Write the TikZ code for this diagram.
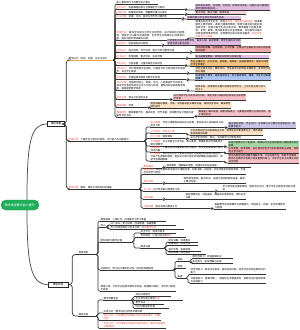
\documentclass[tikz,border=0pt]{standalone}
\usepackage{fontspec}
\usepackage{tikz}
\newfontfamily\cjk{Noto Sans CJK SC}
\XeTeXlinebreaklocale "zh"
\XeTeXlinebreakskip=0pt plus .5pt
\definecolor{rootgreen}{HTML}{1FAF5A}
\definecolor{lineorange}{HTML}{F2A53A}
\definecolor{hlred}{HTML}{E5483F}
\definecolor{purp}{HTML}{DFBCE0}
\definecolor{pinklt}{HTML}{F7D4DA}
\definecolor{pinkmd}{HTML}{F2ABAB}
\definecolor{pinkbx}{HTML}{F5C1C6}
\definecolor{orng}{HTML}{F6C27E}
\definecolor{peach}{HTML}{FCE2C6}
\definecolor{bluebx}{HTML}{AFC6F2}
\definecolor{lavbx}{HTML}{CBC5E8}
\definecolor{greenbx}{HTML}{A3D6A3}
\newcommand\redt[1]{\textcolor{hlred}{#1}}

\begin{document}
\begin{tikzpicture}[x=1pt,y=-1pt,
    every node/.style={font=\cjk\fontsize{2.4}{2.9}\selectfont},
    txt/.style={inner sep=.5pt,anchor=south west,align=left,text width=#1pt},
    ul/.style={append after command={(\tikzlastnode.south west) edge[draw=#1,line width=.6pt] (\tikzlastnode.south east)}},
    leaf/.style={txt=#1,ul=black!80},
    tag/.style 2 args={leaf=#1,fill=#2},
    hub/.style={draw=black!85,line width=.55pt,fill=white,inner xsep=2.5pt,inner ysep=1.2pt,font=\cjk\fontsize{2.6}{3}\selectfont},
    link/.style={draw=black!80,line width=.7pt,rounded corners=1.5pt},
    trunk/.style={draw=black!70,line width=.75pt},
  ]
  \useasboundingbox (0,0) rectangle (300,330);

  % root and main branches
  \node[fill=rootgreen,draw=rootgreen!80!black,line width=.4pt,rounded corners=5pt,text=white,
        minimum width=38pt,minimum height=10pt,inner sep=0pt,font=\cjk\fontsize{3}{3.5}\selectfont]
        (root) at (20,205) {教师课堂教学能力提升};
  \node[hub,minimum width=17pt] (prep) at (56,124) {课前准备};
  \node[hub,minimum width=20pt] (impl) at (58,284.5) {课堂实施};
  \draw[trunk] ([xshift=7pt]root.north) .. controls (27,140) and (31,124) .. (prep.west);
  \draw[trunk] ([xshift=7pt]root.south) .. controls (27,265) and (31,284.5) .. (impl.west);

  % lesson design
  \node[txt=44,ul=lineorange] (design) at (68,60) {教学设计：目标、内容、方法与评价};
  \node[leaf=41] (ds1) at (116,4) {核心素养导向下的教学设计要点};
  \node[leaf=67] (ds2) at (116,9) {\redt{目标设计：}依据课程标准与学情确定学习目标};
  \node[tag={74}{purp}] (dn2) at (195,10) {目标表述具体、可观察、可检测，体现知识技能、过程方法与情感态度价值观的有机统一};
  \node[leaf=67] (ds3) at (116,14) {\redt{内容分析：}梳理知识结构，明确教学重点与难点};
  \node[tag={50}{pinklt}] (dn3) at (195,14.5) {重点突出、难点分散、循序渐进};
  \node[leaf=64] (ds4) at (116,18.5) {\redt{方法选择：}讲授、讨论、探究与合作学习相结合};
  \node[tag={53}{purp}] (dn4) at (187,19) {依据内容与学生特点灵活组合运用};
  \node[leaf=69] (ds5) at (116,40) {\redt{情境创设：}联系生活实际与学生已有经验，设计真实的问题情境，激发学习兴趣与求知欲望，引导学生在情境中主动发现问题、提出问题并尝试解决问题};
  \node[leaf=67] (dn5) at (195,38) {情境应贴近学生生活，具有\redt{真实性、趣味性和挑战性}；情境要服务于教学目标，避免为情境而情境；情境中蕴含的问题应具有层次性，能够引发学生的认知冲突；教师要善于利用多媒体、实物、故事、游戏等多种方式呈现情境，并在教学过程中持续发挥情境的作用，实现情境与知识的有机融合，\redt{促进学生深度学习与发展}};
  \node[leaf=44] (ds6) at (116,45) {\redt{问题设计：}层层递进的问题链};
  \node[tag={73}{purp}] (dn6) at (167,45.5) {问题要有启发性和开放性，由浅入深、由易到难，给学生留出充分的思考空间与表达机会};
  \node[leaf=72] (ds7) at (116,52) {\redt{活动设计：}独立思考、合作交流、展示分享与教师点拨};
  \node[tag={75}{pinkmd}] (dn7) at (195,52.5) {活动目标明确、任务具体、分工合理，让每位学生都能参与其中并获得成功体验};
  \node[leaf=68] (ds8) at (116,58) {\redt{板书设计：}条理清晰、重点突出、布局合理};
  \node[tag={73}{purp}] (dn8) at (195,58.5) {板书是微型教案，体现知识结构与思维过程};
  \node[leaf=67] (ds9) at (116,65) {\redt{作业设计：}分层布置，注重实践性与探究性};
  \node[tag={78}{orng}] (dn9) at (190,66) {作业总量适中、形式多样，基础题、提高题、拓展题相结合，满足不同层次学生的需求};
  \node[leaf=69] (ds10) at (116,73) {\redt{评价设计：}评价贯穿教学全过程，过程性评价与终结性评价相结合，关注学生发展};
  \node[tag={75}{peach}] (dn10) at (195,73.5) {评价主体多元化，教师评价、学生自评与同伴互评相结合，及时给予反馈与激励};
  \node[leaf=69] (ds11) at (116,79.5) {\redt{信息技术：}合理运用多媒体与数字化资源};
  \node[tag={75}{bluebx}] (dn11) at (195,80) {技术服务于教学，避免喧宾夺主；恰当使用课件、微课、交互平台等辅助教学};
  \node[leaf=69] (ds12) at (116,90) {\redt{时间分配：}合理安排导入、新授、练习、小结等各环节的时间，保证学生有足够的自主学习与练习时间，避免前松后紧或拖堂现象，提高课堂教学效率};
  \node[tag={70}{peach}] (dn12) at (195,91) {精讲多练，把课堂时间最大限度地还给学生，让学生真正成为学习的主人};
  \node[leaf=52] (ds13) at (116,99) {\redt{预设生成：}预设与生成的关系};
  \node[tag={72}{pinkbx}] (dn13) at (173,100) {充分预设学生可能出现的问题，课堂中善于捕捉和利用动态生成的教学资源};
  \node[leaf=30] (ds14) at (116,107) {\redt{教具准备：}学具};
  \node[tag={80}{peach}] (dn14) at (150,108) {提前准备好教具、学具、实验器材及多媒体设备，课前检查调试，确保课堂顺利进行};
  \node[leaf=77] (ds15) at (116,117) {\redt{教案撰写：}教案要素齐全，格式规范，环节清楚，体现教学设计意图与思路及学生活动};
  \node[tag={72}{pinkbx}] (dn15) at (198,116) {教案是上课的依据，既要详略得当，又要留有调整与生成的余地，便于课后反思};

  % learners
  \node[leaf=75] (learn) at (68,141) {\redt{学情分析：}了解学生已有知识经验、学习能力与兴趣特点};
  \node[leaf=73] (lr1) at (150,127) {\redt{知识基础：}学生已掌握的相关知识与技能，新旧知识之间的联系与衔接点分析};
  \node[tag={67}{lavbx}] (ln1) at (228,128) {通过课前测验、作业分析、访谈等方式了解学生真实起点，确定教学起点};
  \node[leaf=34] (lr2) at (150,133) {\redt{认知特点：年龄与心理}};
  \node[tag={72}{peach}] (ln2) at (190,135) {不同年龄段学生的思维特点不同，低年级以形象思维为主，高年级抽象思维逐步发展};
  \node[leaf=34] (lr3) at (150,138.5) {\redt{学习习惯：}课堂表现};
  \node[leaf=75] (ln3) at (190,139) {关注学生的倾听、表达、书写等学习习惯的养成};
  \node[leaf=72] (lr4) at (150,146) {\redt{个体差异：}关注学困生与学优生，承认差异、尊重差异并利用差异开展分层教学};
  \node[tag={70}{greenbx}] (ln4) at (228,147) {实施分层教学与个别辅导，使每位学生在原有基础上都能得到充分发展};
  \node[leaf=72] (lr5) at (150,152) {\redt{兴趣需求：}了解学生的兴趣爱好与学习需求，从学生的视角设计教学活动内容};
  \node[tag={70}{pinkmd}] (ln5) at (228,153.5) {以学定教，顺学而导，充分调动学生学习的积极性和主动性，培养自主学习能力};
  \node[leaf=72] (lr6) at (150,161) {\redt{学习困难：}预判学生在学习新知识过程中可能遇到的困难与易错点，分析产生困难的原因，提前设计有针对性的突破策略与辅助材料，帮助学生跨越障碍};
  \node[tag={70}{pinkbx}] (ln6) at (228,163) {常见的易错点包括概念理解不清、方法运用不当、审题不仔细等，教师应在教学中有意识地设置辨析练习，引导学生自主纠错并反思总结经验};

  % resources
  \node[leaf=70] (res) at (68,189) {\redt{教学资源：}教材、课件与活动材料的准备};
  \node[leaf=18] (rs1) at (143,168) {\redt{教材解读}};
  \node[leaf=84] (rn1) at (166,167) {通读教材，理解编写意图，把握知识的前后联系};
  \node[leaf=102] (rs2) at (143,174.5) {\redt{课程资源：}充分挖掘和利用校内外课程资源，如图书馆、实验室、社区场馆及网络资源等，丰富学生的学习经历};
  \node[leaf=18] (rs3) at (143,183) {\redt{课件制作}};
  \node[leaf=62] (rn3) at (183,183.5) {课件简洁美观、重点突出，动画与音视频使用适度，服务于教学内容};
  \node[leaf=70] (rs4) at (143,191) {\redt{学习单：}设计导学案与课堂练习单};
  \node[leaf=73] (rn4) at (222,191.5) {学习单问题设置有梯度，留有书写空间，便于学生记录思考过程与收获};
  \node[leaf=18] (rs5) at (143,199) {\redt{实验准备}};
  \node[leaf=60] (rn5) at (185,199.5) {课前预做实验，检查器材，确保实验现象明显、操作安全可靠};
  \node[leaf=66] (rs6) at (143,208) {\redt{环境布置：}座位安排与教室文化};
  \node[leaf=71] (rn6) at (214,209) {根据教学活动需要灵活调整座位，营造民主、和谐、安全的课堂学习氛围};

  \draw[link,rounded corners=3pt] (prep.east) -- ++(1.5,0) |- (design.south west);
  \draw[link,rounded corners=3pt] (prep.east) -- ++(1.5,0) |- (learn.south west);
  \draw[link,rounded corners=3pt] (prep.east) -- ++(1.5,0) |- (res.south west);
  \foreach \i in {1,...,15}
    \draw[link] (design.south east) -- ++(1.5,0) |- (ds\i.south west);
  \foreach \i in {2,...,15}
    \draw[link] (ds\i.south east) -- ++(1.5,0) |- (dn\i.south west);
  \foreach \i in {1,...,6}
    \draw[link] (learn.south east) -- ++(1.5,0) |- (lr\i.south west);
  \foreach \i in {1,...,6}
    \draw[link] (lr\i.south east) -- ++(1.5,0) |- (ln\i.south west);
  \foreach \i in {1,...,6}
    \draw[link] (res.south east) -- ++(1.5,0) |- (rs\i.south west);
  \foreach \i in {1,3,4,5,6}
    \draw[link] (rs\i.south east) -- ++(1.5,0) |- (rn\i.south west);

  % classroom organisation
  \node[leaf=17] (org) at (78,254.5) {课堂组织};
  \node[leaf=65] (or1) at (100,221) {课堂常规：上课礼仪、纪律要求与学习准备};
  \node[leaf=5] (or2) at (100,227) {导入};
  \node[leaf=65] (lead1) at (110,225) {开门见山、复习旧知、创设情境、设疑激趣};
  \node[leaf=73] (lead2) at (110,229) {导入时间控制在三至五分钟，\redt{紧扣教学目标}};
  \node[leaf=31] (or3) at (100,242) {新知探究与教学过程};
  \node[leaf=35] (new1) at (140,233) {自主学习：阅读与思考};
  \node[leaf=45] (new2) at (140,237.5) {合作探究：小组讨论交流\redt{展示}};
  \node[leaf=23] (new3) at (140,248) {精讲点拨};
  \node[leaf=29] (tip1) at (168,242) {抓住关键、讲透重点};
  \node[leaf=29] (tip2) at (168,245.5) {突破难点、总结方法};
  \node[leaf=32] (tip3) at (168,251) {追问引导、拓展思维};
  \node[leaf=37] (tip4) at (168,254.5) {及时纠错、规范表达};
  \node[leaf=72] (or4) at (100,270) {巩固练习：练习设计要有针对性、层次性和趣味性};
  \node[leaf=11] (ex1) at (177,261.5) {基础};
  \node[leaf=40] (exa1) at (192,258.5) {模仿性练习，巩固基础知识};
  \node[leaf=40] (exa2) at (192,263) {变式练习，加深理解与运用};
  \node[leaf=8] (ex2) at (177,268.5) {提高};
  \node[leaf=8] (ex3) at (177,278) {拓展};
  \node[leaf=75] (exc1) at (190,274.5) {综合性练习：联系生活实际，解决实际问题，培养学生综合运用知识的能力};
  \node[leaf=75] (exc2) at (190,283) {开放性练习：答案不唯一，鼓励学生多角度思考，发展学生的创新思维与实践能力};
  \node[leaf=75] (or5) at (100,291) {课堂小结：引导学生回顾本课所学内容，梳理知识结构，交流学习收获与体会};

  % reflection
  \node[leaf=17] (refl) at (78,316) {课后反思};
  \node[leaf=27] (rf1) at (103,300) {教学效果反思};
  \node[leaf=35] (rfa1) at (135,296.5) {目标达成情况};
  \node[leaf=47] (rfa2) at (135,300.5) {学生参与度与课堂\redt{生成}};
  \node[leaf=28] (rfa3) at (135,304.5) {教学方法};
  \node[leaf=33] (rfa4) at (135,308.5) {时间分配是否合理};
  \node[leaf=57] (rf2) at (103,313) {反思方式 - 教学后记与同伴听课评课};
  \node[leaf=57] (rf3) at (103,320.5) {\redt{成功之处：记录课堂中的精彩片段与有效做法，积累经验}};
  \node[leaf=62] (rf4) at (103,328.5) {\redt{不足之处：分析课堂中出现的问题及原因，提出改进措施与再教设计}};

  \draw[link,rounded corners=3pt] (impl.east) -- ++(4,0) |- (org.south west);
  \draw[link,rounded corners=3pt] (impl.east) -- ++(4,0) |- (refl.south west);
  \foreach \i in {1,...,5}
    \draw[link] (org.south east) -- ++(1.5,0) |- (or\i.south west);
  \foreach \i in {1,2}
    \draw[link] (or2.south east) -- ++(1.5,0) |- (lead\i.south west);
  \foreach \i in {1,2,3}
    \draw[link] (or3.south east) -- ++(1.5,0) |- (new\i.south west);
  \foreach \i in {1,...,4}
    \draw[link] (new3.south east) -- ++(1.5,0) |- (tip\i.south west);
  \foreach \i in {1,2,3}
    \draw[link] (or4.south east) -- ++(1.5,0) |- (ex\i.south west);
  \foreach \i in {1,2}
    \draw[link] (ex1.south east) -- ++(1.5,0) |- (exa\i.south west);
  \foreach \i in {1,2}
    \draw[link] (ex3.south east) -- ++(1.5,0) |- (exc\i.south west);
  \foreach \i in {1,...,4}
    \draw[link] (refl.south east) -- ++(1.5,0) |- (rf\i.south west);
  \foreach \i in {1,...,4}
    \draw[link] (rf1.south east) -- ++(1.5,0) |- (rfa\i.south west);
\end{tikzpicture}
\end{document}
